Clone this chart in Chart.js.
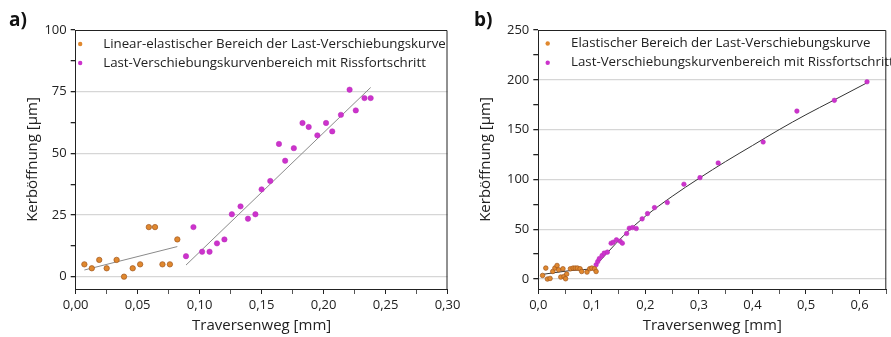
<!DOCTYPE html>
<html>
<head>
<meta charset="utf-8">
<script src="https://cdn.jsdelivr.net/npm/chart.js@4.4.1/dist/chart.umd.min.js"></script>
<style>
body { margin: 0; background: #fff; }
#wrap { position: relative; width: 891px; height: 337px; overflow: hidden; }
.box { position: absolute; top: 0; height: 337px; }
#boxA { left: 0; width: 480px; }
#boxB { left: 450px; width: 441px; }
.tag { position: absolute; font: bold 19px "Open Sans", sans-serif; color: #111; }
</style>
</head>
<body>
<div id="wrap">
  <div class="box" id="boxB"><canvas id="chartB"></canvas></div>
  <div class="box" id="boxA"><canvas id="chartA"></canvas></div>
  <div class="tag" style="left:9px;top:6px">a)</div>
  <div class="tag" style="left:474px;top:6px">b)</div>
</div>
<script>
// --- Daten a) ---
const aElastX = [0.007, 0.013, 0.019, 0.025, 0.033, 0.039, 0.046, 0.052, 0.059, 0.064, 0.070, 0.076, 0.082];
const aElastY = [5.0, 3.4, 6.8, 3.4, 6.8, 0, 3.4, 5.0, 20.1, 20.1, 5.0, 5.0, 15.1];
const aRissX = [0.089, 0.095, 0.102, 0.108, 0.114, 0.120, 0.126, 0.133, 0.139, 0.145, 0.150, 0.157,
                0.164, 0.169, 0.176, 0.183, 0.188, 0.195, 0.202, 0.207, 0.214, 0.221, 0.226, 0.233, 0.238];
const aRissY = [8.3, 20.1, 10.1, 10.1, 13.5, 15.1, 25.3, 28.5, 23.5, 25.3, 35.4, 38.8,
                53.8, 47.0, 52.1, 62.3, 60.7, 57.3, 62.3, 58.9, 65.6, 75.8, 67.4, 72.4, 72.4];
const aFitElastX = [0.007, 0.082];
const aFitElastY = [2.7, 12.2];
const aFitRissX = [0.089, 0.238];
const aFitRissY = [4.7, 76.7];

// --- Daten b) ---
const bElastX = [0.008, 0.014, 0.017, 0.022, 0.027, 0.031, 0.035, 0.038, 0.042, 0.046, 0.048, 0.051, 0.053,
                 0.060, 0.065, 0.069, 0.073, 0.078, 0.081, 0.091, 0.096, 0.100, 0.105, 0.108];
const bElastY = [3.6, 11, 0, 0.6, 7.6, 11, 13.6, 9.3, 2, 10.3, 2.6, 0.3, 5,
                 10.3, 11, 11, 11, 10.3, 7.6, 7, 10.3, 11, 10.3, 7.6];
const bRissX = [0.108, 0.111, 0.114, 0.119, 0.123, 0.129, 0.136, 0.140, 0.146, 0.153, 0.157, 0.165, 0.170,
                0.176, 0.183, 0.194, 0.204, 0.217, 0.241, 0.272, 0.302, 0.336, 0.420, 0.483, 0.553, 0.614];
const bRissY = [14.3, 17.6, 20.5, 23.5, 26, 27, 36, 37, 39.4, 38, 36, 45.7, 51,
                51.7, 50.7, 60.4, 65.7, 71.7, 76.8, 95.2, 101.8, 116.5, 137.6, 168.6, 179.4, 198];
const bFitElastX = [0.006, 0.06, 0.108];
const bFitElastY = [4.5, 8.5, 10.3];
const bFitRissX = [0.108, 0.13, 0.16, 0.2, 0.25, 0.3, 0.35, 0.4, 0.45, 0.5, 0.55, 0.614];
const bFitRissY = [14, 27, 44, 63, 83, 101, 118, 134, 150, 165, 179, 197];

const FONT = '"Open Sans", sans-serif';
const ORANGE = '#E0882E';
const MAGENTA = '#CC33CC';

function pts(xs, ys) {
    return xs.map((x, i) => ({ x: x, y: ys[i] }));
}

// Rahmen oben und rechts
const framePlugin = {
    id: 'frame',
    afterDraw(chart) {
        const { ctx, chartArea: a } = chart;
        ctx.save();
        ctx.strokeStyle = '#222';
        ctx.lineWidth = 1;
        ctx.beginPath();
        ctx.moveTo(a.left, a.top + 0.5);
        ctx.lineTo(a.right - 0.5, a.top + 0.5);
        ctx.lineTo(a.right - 0.5, a.bottom);
        ctx.stroke();
        ctx.restore();
    }
};

// Legende innerhalb der Zeichenfläche
const innerLegend = {
    id: 'innerLegend',
    afterDraw(chart, args, opts) {
        const { ctx, chartArea: a } = chart;
        ctx.save();
        ctx.font = opts.size + 'px ' + FONT;
        ctx.textBaseline = 'middle';
        opts.rows.forEach((rowY, i) => {
            const ds = chart.data.datasets[i];
            ctx.fillStyle = ds.backgroundColor;
            ctx.beginPath();
            ctx.arc(a.left + opts.dotX, rowY, 2.2, 0, Math.PI * 2);
            ctx.fill();
            ctx.fillStyle = '#222';
            ctx.fillText(ds.label, a.left + opts.textX, rowY);
        });
        ctx.restore();
    }
};

function xScale(max, step, major, digits, pad) {
    return {
        type: 'linear', min: 0, max: max,
        ticks: {
            stepSize: step, color: '#222', padding: 3,
            autoSkip: false, maxRotation: 0, minRotation: 0,
            font: { family: FONT, size: 13 },
            callback: v => (Math.round(v * 1000) % Math.round(major * 1000) === 0) ? v.toFixed(digits).replace('.', ',') : ''
        },
        grid: {
            drawOnChartArea: false, tickLength: 5,
            tickColor: c => (c.tick && Math.round(c.tick.value * 1000) % Math.round(major * 1000) === 0) ? '#222' : '#555'
        },
        border: { color: '#222', width: 1 },
        title: { display: true, text: 'Traversenweg [mm]', color: '#222', font: { family: FONT, size: 15 }, padding: { top: 0, bottom: pad } },
        afterFit: s => { s.height = 48; }
    };
}

function yScale(min, max, step, major, width, pad) {
    return {
        type: 'linear', min: min, max: max,
        ticks: {
            stepSize: step, color: '#222', padding: 4,
            autoSkip: false, includeBounds: false,
            font: { family: FONT, size: 13 },
            callback: v => (v >= 0 && v % major === 0) ? String(v) : ''
        },
        grid: {
            color: c => (c.tick && c.tick.value >= 0 && c.tick.value < max && c.tick.value % major === 0) ? '#d6d6d6' : 'rgba(0,0,0,0)',
            tickColor: c => (c.tick && c.tick.value < 0) ? 'rgba(0,0,0,0)' : '#222',
            tickLength: 5, lineWidth: 1.3
        },
        border: { color: '#222', width: 1 },
        title: { display: true, text: 'Kerböffnung [µm]', color: '#222', font: { family: FONT, size: 15 }, padding: { top: pad, bottom: 0 } },
        afterFit: s => { s.width = width; }
    };
}

function makeChart(id, sets, scales, padding, legendOpts, radius, fitColor) {
    new Chart(document.getElementById(id), {
        type: 'scatter',
        data: {
            datasets: [
                { label: sets.labels[0], data: sets.elast, backgroundColor: ORANGE, borderColor: '#A0561C', borderWidth: 0.7, pointRadius: radius },
                { label: sets.labels[1], data: sets.riss, backgroundColor: MAGENTA, borderColor: '#B82AB8', borderWidth: 0.5, pointRadius: radius },
                { data: sets.fitElast, showLine: true, borderColor: fitColor, borderWidth: 1, pointRadius: 0, cubicInterpolationMode: 'monotone' },
                { data: sets.fitRiss, showLine: true, borderColor: fitColor, borderWidth: 1, pointRadius: 0, cubicInterpolationMode: 'monotone' }
            ]
        },
        options: {
            responsive: true,
            maintainAspectRatio: false,
            animation: false,
            layout: { padding: padding },
            scales: scales,
            plugins: {
                legend: { display: false },
                tooltip: { enabled: false },
                innerLegend: legendOpts
            }
        },
        plugins: [framePlugin, innerLegend]
    });
}

makeChart('chartA', {
    labels: ['Linear-elastischer Bereich der Last-Verschiebungskurve', 'Last-Verschiebungskurvenbereich mit Rissfortschritt'],
    elast: pts(aElastX, aElastY), riss: pts(aRissX, aRissY),
    fitElast: pts(aFitElastX, aFitElastY), fitRiss: pts(aFitRissX, aFitRissY)
}, {
    x: xScale(0.30, 0.025, 0.05, 2, 2),
    y: yScale(-5, 100, 12.5, 25, 75.7, 24)
}, { left: 0, right: 32.5, top: 30, bottom: 0 }, { dotX: 4.5, textX: 27.5, rows: [44, 63], size: 13.3 }, 2.7, '#8a8a8a');

makeChart('chartB', {
    labels: ['Elastischer Bereich der Last-Verschiebungskurve', 'Last-Verschiebungskurvenbereich mit Rissfortschritt'],
    elast: pts(bElastX, bElastY), riss: pts(bRissX, bRissY),
    fitElast: pts(bFitElastX, bFitElastY), fitRiss: pts(bFitRissX, bFitRissY)
}, {
    x: xScale(0.65, 0.05, 0.1, 1, 2),
    y: yScale(-10, 250, 25, 50, 88.3, 27)
}, { left: 0, right: 1.7, top: 30, bottom: 0 }, { dotX: 9.4, textX: 32.7, rows: [43.5, 62.7], size: 13.3 }, 2.3, '#333');
</script>
</body>
</html>
